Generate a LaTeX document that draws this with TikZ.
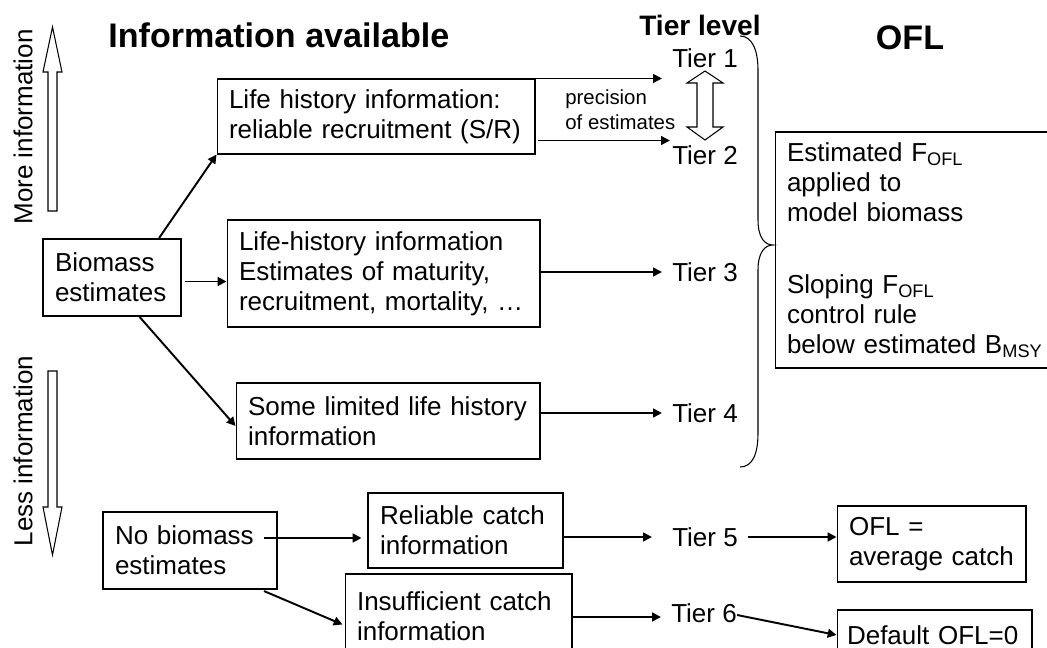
\documentclass[tikz,border=0pt]{standalone}
\usepackage{fontspec}
\setmainfont{Liberation Sans}
\usetikzlibrary{calc}
\usetikzlibrary{arrows.meta}

\begin{document}
\begin{tikzpicture}[x=0.02cm, y=-0.02cm,
  >={Triangle[length=5pt,width=5pt]},
  every node/.style={font=\fontsize{14.8pt}{17pt}\selectfont},
  box/.style={draw, line width=0.6pt, align=left, inner xsep=0.24cm, inner ysep=0pt},
  thickbox/.style={box, line width=1.2pt},
  tier/.style={inner xsep=0.2cm, inner ysep=0pt},
  arr/.style={->, line width=1.1pt},
  hollow/.style={draw, line width=0.6pt, fill=white},
  bigtitle/.style={font=\fontsize{19.4pt}{22pt}\selectfont\bfseries, inner sep=0pt}]
\useasboundingbox (0,0) rectangle (1047,648);

% titles
\node[bigtitle, anchor=base west] (info) at (108,48) {Information available};
\node[bigtitle, anchor=base, font=\fontsize{16pt}{19pt}\selectfont\bfseries] (level) at (700,36) {Tier level};
\node[bigtitle, anchor=base] (ofltitle) at (910,50) {OFL};

% side labels
\node[rotate=90] (more) at (23,127) {More information};
\node[rotate=90] (less) at (23,451) {Less information};
\draw[hollow] (52.5,27) -- (62,72) -- (57,72) -- (57,211) -- (48,211) -- (48,72) -- (43,72) -- cycle; % up
\draw[hollow] (52.5,555) -- (62,507) -- (57,507) -- (57,371) -- (48,371) -- (48,507) -- (43,507) -- cycle; % down

% information boxes
\node[thickbox, text width=2.28cm, minimum height=1.54cm] (bio) at (112,277.5) {Biomass\\estimates};
\node[box, text width=5.88cm, minimum height=1.5cm] (lhr) at (376,116.5) {Life history information:\\reliable recruitment (S/R)};
\node[box, text width=5.78cm, minimum height=2.14cm] (lhe) at (383.5,273.5) {Life-history information\\Estimates of maturity,\\recruitment, mortality, …};
\node[box, text width=5.6cm, minimum height=1.52cm] (lim) at (388,421) {Some limited life history\\information};
\node[thickbox, text width=3.0cm, minimum height=1.54cm] (nob) at (190,550.5) {No biomass\\estimates};
\node[box, text width=3.42cm, minimum height=1.5cm] (rel) at (465.5,530.5) {Reliable catch\\information};
\node[box, text width=4.06cm, minimum height=1.7cm] (ins) at (458.5,616.5) {Insufficient catch\\information};

% tiers
\node[tier] (tier1) at (705,58) {Tier 1};
\node[tier] (tier2) at (705,155) {Tier 2};
\node[tier] (tier3) at (705,272) {Tier 3};
\node[tier] (tier4) at (705,413) {Tier 4};
\node[tier] (tier5) at (705,537) {Tier 5};
\node[tier] (tier6) at (704,613) {Tier 6};

\node[anchor=west, align=left, inner sep=0pt, font=\fontsize{11.6pt}{14.2pt}\selectfont] (prec) at (565,110) {precision\\of estimates};
\draw[hollow] (705,71) -- (723,83) -- (713,83) -- (713,127) -- (723,127) -- (705,140) -- (687,127) -- (697,127) -- (697,83) -- (687,83) -- cycle; % precision

% OFL boxes
\node[box, text width=5.3cm, minimum height=4.72cm] (ofl) at (919.5,250) {Estimated F\textsubscript{OFL}\\applied to\\model biomass\\[24pt]Sloping F\textsubscript{OFL}\\control rule\\below estimated B\textsubscript{MSY}};
\node[box, text width=3.3cm, minimum height=1.52cm] (oflavg) at (931.5,544) {OFL =\\average catch};
\node[box, text width=3.5cm, inner xsep=0.2cm, minimum height=1.0cm] (dflt) at (934.5,635) {Default OFL=0};

% brace
\draw[line width=0.6pt] (740,36) .. controls (752,36) and (758,50) .. (758,70) -- (758,220) .. controls (758,238) and (765,245) .. (773,245) .. controls (765,245) and (758,252) .. (758,270) -- (758,433) .. controls (758,455) and (752,467) .. (740,467);

% arrows
\draw[arr] (bio.40) -- (lhr.south west);
\draw[arr] ($(bio.east)+(3,4)$) -- ($(bio.east -| lhe.west)+(0,4)$);
\draw[arr] (bio.-55) -- ($(lim.west)+(0,5)$);
\draw[arr] ($(lhr.north east)+(-6,0)$) -- (lhr.north east -| tier1.west); % to tier 1
\draw[arr] ($(lhr.south east)+(2,-14)$) -- ($(lhr.south east -| tier2.west)+(8,-14)$); % to tier 2
\draw[arr] ($(tier3.west -| lhe.east)+(-2,0)$) -- (tier3.west);
\draw[arr] ($(tier4.west -| lim.east)+(-2,0)$) -- (tier4.west);
\draw[arr] ($(nob.east)+(-14,-12.5)$) -- ($(nob.east -| rel.west)+(-6,-12.5)$);
\draw[arr] ($(nob.south east)+(-14,1)$) -- ($(ins.west)+(-2,8)$);
\draw[arr] (rel.east |- tier5.west) -- ($(tier5.west)+(-10,0)$);
\draw[arr] (tier5.east) -- (tier5.east -| oflavg.west);
\draw[arr] ($(ins.east |- tier6.west)+(0,4)$) -- ($(tier6.west)+(0,4)$);
\draw[arr] ($(tier6.east)+(-10,2)$) -- (dflt.west);

\end{tikzpicture}
\end{document}
